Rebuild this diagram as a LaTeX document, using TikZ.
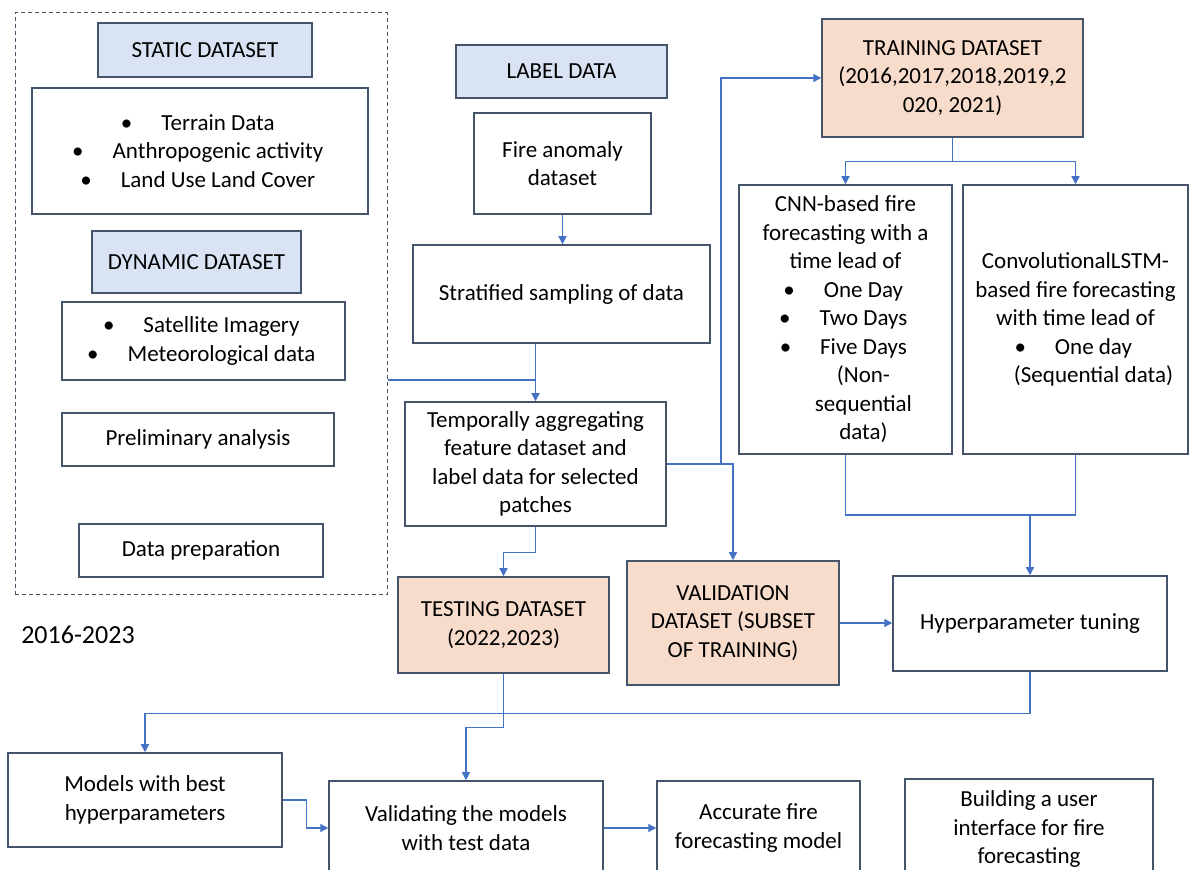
\documentclass[tikz,border=0pt]{standalone}
\usepackage{fontspec}
\setmainfont{Carlito}
\usepackage{tikz}
\usetikzlibrary{arrows.meta}

\definecolor{boxline}{HTML}{44546A}
\definecolor{headblue}{HTML}{DAE3F3}
\definecolor{peach}{HTML}{F8DCCB}
\definecolor{linkblue}{HTML}{4472C4}

% bullet line and its continuation, shifted like a hanging indent
\newcommand\litem[1]{\hspace*{18pt}\llap{\textbullet\hspace{14.5pt}}#1}
\newcommand\lcont[1]{\hspace*{18pt}#1}

\tikzset{
  box/.style={draw=boxline, line width=0.75pt, fill=white, inner sep=0pt, align=center,
    font=\fontsize{11.5}{14.25}\selectfont},
  headbox/.style={box, fill=headblue},
  databox/.style={box, fill=peach},
  link/.style={draw=linkblue, line width=0.7pt},
  arrlink/.style={link, -{Triangle[length=4pt,width=4pt]}}
}

\begin{document}
\begin{tikzpicture}[x=0.5pt,y=-0.5pt]
			%%%%% START %%%%%
			\useasboundingbox (0,0) rectangle (1190,870);
			\clip (0,0) rectangle (1190,870);
			\fill[white] (0,0) rectangle (1190,870);
			
			% input datasets
			\node[draw=boxline, line width=0.5pt, dash pattern=on 2pt off 1.5pt, minimum width=186pt, minimum height=291pt, inner sep=0pt] (inputs) at (201,304) {};
			\node[headbox, minimum width=107pt, minimum height=27pt] (static) at (205,50) {STATIC DATASET};
			\node[box, minimum width=168pt, minimum height=63pt] (staticlist) at (200,151)
				{\litem{Terrain Data}\\ \litem{Anthropogenic activity}\\ \litem{Land Use Land Cover}};
			\node[headbox, minimum width=104.5pt, minimum height=31pt] (dynamic) at (196.5,262) {DYNAMIC DATASET};
			\node[box, minimum width=141.5pt, minimum height=39pt] (dynlist) at (203.5,341)
				{\litem{Satellite Imagery}\\ \litem{Meteorological data}};
			\node[box, minimum width=136pt, minimum height=26.5pt] (prelim) at (198,439.5) {Preliminary analysis};
			\node[box, minimum width=122pt, minimum height=26.5pt] (prep) at (201,550.5) {Data preparation};
			\node[font=\fontsize{13}{15}\selectfont] (years) at (78,635) {2016-2023};
			
			% label data
			\node[headbox, minimum width=105.5pt, minimum height=26.5pt] (label) at (561.5,71.5) {LABEL DATA};
			\node[box, minimum width=88.5pt, minimum height=50.5pt] (fire) at (562.5,163.5) {Fire anomaly\\ dataset};
			\node[box, minimum width=148.5pt, minimum height=49pt] (strat) at (561.5,294) {Stratified sampling of data};
			\node[box, minimum width=130.5pt, minimum height=62pt] (temporal) at (535.5,464)
				{Temporally aggregating\\ feature dataset and\\ label data for selected\\ patches};
			
			% splits
			\node[databox, minimum width=105.5pt, minimum height=48pt] (testing) at (503.5,625) {TESTING DATASET\\ (2022,2023)};
			\node[databox, minimum width=106pt, minimum height=62pt] (validation) at (733,623)
				{VALIDATION\\ DATASET (SUBSET\\ OF TRAINING)};
			\node[databox, minimum width=130.5pt, minimum height=59pt] (training) at (952.5,78)
				{TRAINING DATASET\\ (2016,2017,2018,2019,2\\ 020, 2021)};
			
			% models
			\node[box, minimum width=106.5pt, minimum height=134.5pt] (cnn) at (845.5,319.5)
				{CNN-based fire\\ forecasting with a\\ time lead of\\ \litem{One Day}\\ \litem{Two Days}\\ \litem{Five Days}\\ \lcont{(Non-}\\ \lcont{sequential}\\ \lcont{data)}};
			\node[box, minimum width=112.5pt, minimum height=134.5pt] (convlstm) at (1075.5,319.5)
				{ConvolutionalLSTM-\\ based fire forecasting\\ with time lead of\\ \litem{One day}\\ \lcont{(Sequential data)}};
			\node[box, minimum width=137pt, minimum height=47.5pt] (hyper) at (1030,623.5) {Hyperparameter tuning};
			\node[box, minimum width=137pt, minimum height=47pt] (models) at (145,800) {Models with best\\ hyperparameters};
			\node[box, minimum width=137pt, minimum height=47pt] (valid) at (466,828) {Validating the models\\ with test data};
			\node[box, minimum width=101.5pt, minimum height=47pt] (accurate) at (758.5,828) {Accurate fire\\ forecasting model};
			\node[box, minimum width=124pt, minimum height=50pt] (ui) at (1029,829) {Building a user\\ interface for fire\\ forecasting};
			
			% connectors
			\coordinate (join) at (535.5,380);
			\coordinate (tsplit) at (721,464);
			\coordinate (merge) at (1030,515);
			\draw[arrlink] (fire.south) -- (fire.south |- strat.north);
			\draw[arrlink] (temporal.north |- strat.south) -- (temporal.north);
			\draw[link] (inputs.east |- join) -- (join);
			\draw[arrlink] (temporal.south) -- ++(0,26) -| (testing.north);
			\draw[arrlink] (temporal.east) -| (validation.north);
			\draw[arrlink] (tsplit) |- (training.west);
			\draw[arrlink] (training.south) -- ++(0,24) -| (cnn.north);
			\draw[arrlink] (training.south) -- ++(0,24) -| (convlstm.north);
			\draw[link] (cnn.south) |- (merge) -| (convlstm.south);
			\draw[arrlink] (merge) -- (hyper.north);
			\draw[arrlink] (validation.east) -- (validation.east -| hyper.west);
			\draw[arrlink] (hyper.south) -- ++(0,42) -| (models.north);
			\draw[arrlink] (testing.south) -- ++(0,54) -| (valid.north);
			\draw[arrlink] (models.east) -- ++(24,0) |- (valid.west);
			\draw[arrlink] (valid.east) -- (accurate.west);
			%%%%% END %%%%%
\end{tikzpicture}
\end{document}
